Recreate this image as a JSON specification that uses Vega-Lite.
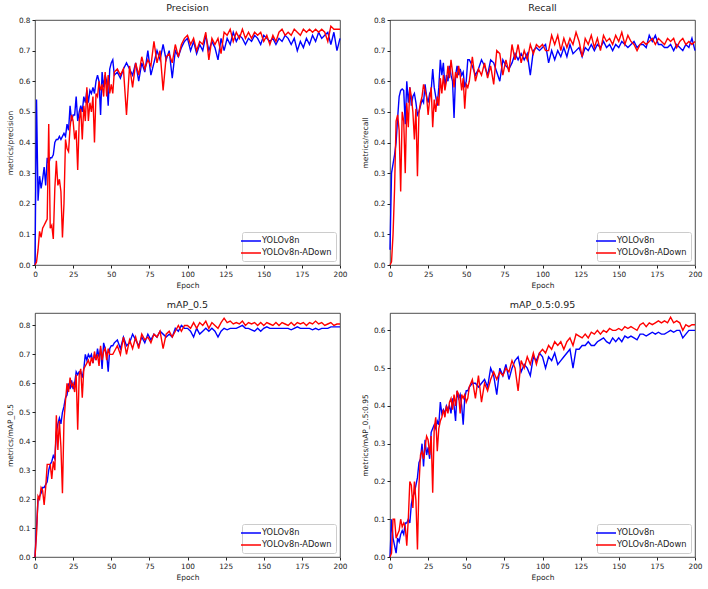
{
  "$schema": "https://vega.github.io/schema/vega-lite/v6.json",
  "padding": {"left": 5, "top": 2, "right": 0, "bottom": 0},
  "background": "white",
  "datasets": {
    "d": [
      {"e":0,"p1":0,"p2":0,"r1":0.05,"r2":0,"m1":0,"m2":0,"s1":0,"s2":0},
      {"e":1,"p1":0.54,"p2":0.01,"r1":0.30,"r2":0.01,"m1":0.10,"m2":0.08,"s1":0.10,"s2":0.01},
      {"e":2,"p1":0.21,"p2":0.05,"r1":0.33,"r2":0.10,"m1":0.20,"m2":0.21,"s1":0.05,"s2":0.10},
      {"e":3,"p1":0.29,"p2":0.11,"r1":0.36,"r2":0.25,"m1":0.21,"m2":0.20,"s1":0.03,"s2":0.10},
      {"e":4,"p1":0.25,"p2":0.09,"r1":0.40,"r2":0.47,"m1":0.22,"m2":0.24,"s1":0.01,"s2":0.05},
      {"e":5,"p1":0.28,"p2":0.12,"r1":0.48,"r2":0.49,"m1":0.24,"m2":0.23,"s1":0.05,"s2":0.06},
      {"e":6,"p1":0.32,"p2":0.13,"r1":0.55,"r2":0.44,"m1":0.24,"m2":0.18,"s1":0.04,"s2":0.07},
      {"e":7,"p1":0.26,"p2":0.14,"r1":0.57,"r2":0.24,"m1":0.25,"m2":0.24,"s1":0.06,"s2":0.10},
      {"e":8,"p1":0.35,"p2":0.15,"r1":0.575,"r2":0.50,"m1":0.26,"m2":0.32,"s1":0.07,"s2":0.08},
      {"e":9,"p1":0.33,"p2":0.46,"r1":0.57,"r2":0.47,"m1":0.30,"m2":0.32,"s1":0.06,"s2":0.09},
      {"e":10,"p1":0.35,"p2":0.12,"r1":0.46,"r2":0.30,"m1":0.32,"m2":0.32,"s1":0.09,"s2":0.08},
      {"e":11,"p1":0.35,"p2":0.13,"r1":0.60,"r2":0.53,"m1":0.33,"m2":0.27,"s1":0.09,"s2":0.03},
      {"e":12,"p1":0.36,"p2":0.085,"r1":0.53,"r2":0.45,"m1":0.35,"m2":0.33,"s1":0.10,"s2":0.10},
      {"e":13,"p1":0.40,"p2":0.25,"r1":0.58,"r2":0.58,"m1":0.34,"m2":0.30,"s1":0.09,"s2":0.20},
      {"e":14,"p1":0.41,"p2":0.34,"r1":0.52,"r2":0.55,"m1":0.43,"m2":0.49,"s1":0.14,"s2":0.19},
      {"e":15,"p1":0.41,"p2":0.26,"r1":0.55,"r2":0.50,"m1":0.46,"m2":0.37,"s1":0.16,"s2":0.13},
      {"e":16,"p1":0.42,"p2":0.28,"r1":0.56,"r2":0.41,"m1":0.48,"m2":0.47,"s1":0.17,"s2":0.20},
      {"e":17,"p1":0.41,"p2":0.24,"r1":0.53,"r2":0.51,"m1":0.46,"m2":0.38,"s1":0.19,"s2":0.15},
      {"e":18,"p1":0.42,"p2":0.09,"r1":0.49,"r2":0.29,"m1":0.50,"m2":0.22,"s1":0.21,"s2":0.02},
      {"e":19,"p1":0.43,"p2":0.20,"r1":0.50,"r2":0.50,"m1":0.52,"m2":0.47,"s1":0.25,"s2":0.19},
      {"e":20,"p1":0.42,"p2":0.41,"r1":0.52,"r2":0.53,"m1":0.55,"m2":0.54,"s1":0.26,"s2":0.27},
      {"e":21,"p1":0.46,"p2":0.38,"r1":0.54,"r2":0.55,"m1":0.56,"m2":0.60,"s1":0.30,"s2":0.28},
      {"e":22,"p1":0.44,"p2":0.37,"r1":0.53,"r2":0.59,"m1":0.60,"m2":0.57,"s1":0.24,"s2":0.26},
      {"e":23,"p1":0.52,"p2":0.45,"r1":0.59,"r2":0.57,"m1":0.58,"m2":0.62,"s1":0.31,"s2":0.29},
      {"e":24,"p1":0.47,"p2":0.49,"r1":0.55,"r2":0.55,"m1":0.61,"m2":0.59,"s1":0.27,"s2":0.32},
      {"e":25,"p1":0.49,"p2":0.47,"r1":0.53,"r2":0.49,"m1":0.58,"m2":0.60,"s1":0.29,"s2":0.31},
      {"e":26,"p1":0.49,"p2":0.41,"r1":0.56,"r2":0.54,"m1":0.60,"m2":0.57,"s1":0.26,"s2":0.27},
      {"e":27,"p1":0.55,"p2":0.44,"r1":0.57,"r2":0.58,"m1":0.64,"m2":0.63,"s1":0.33,"s2":0.32},
      {"e":28,"p1":0.47,"p2":0.31,"r1":0.64,"r2":0.45,"m1":0.63,"m2":0.44,"s1":0.34,"s2":0.17},
      {"e":29,"p1":0.50,"p2":0.47,"r1":0.58,"r2":0.54,"m1":0.64,"m2":0.63,"s1":0.35,"s2":0.34},
      {"e":30,"p1":0.52,"p2":0.51,"r1":0.55,"r2":0.50,"m1":0.64,"m2":0.65,"s1":0.34,"s2":0.37},
      {"e":31,"p1":0.50,"p2":0.41,"r1":0.52,"r2":0.55,"m1":0.62,"m2":0.55,"s1":0.36,"s2":0.28},
      {"e":32,"p1":0.55,"p2":0.52,"r1":0.58,"r2":0.52,"m1":0.65,"m2":0.65,"s1":0.35,"s2":0.34},
      {"e":33,"p1":0.53,"p2":0.47,"r1":0.67,"r2":0.61,"m1":0.70,"m2":0.66,"s1":0.41,"s2":0.36},
      {"e":34,"p1":0.57,"p2":0.58,"r1":0.62,"r2":0.56,"m1":0.68,"m2":0.67,"s1":0.38,"s2":0.37},
      {"e":35,"p1":0.53,"p2":0.47,"r1":0.66,"r2":0.62,"m1":0.70,"m2":0.68,"s1":0.39,"s2":0.39},
      {"e":36,"p1":0.57,"p2":0.53,"r1":0.58,"r2":0.57,"m1":0.69,"m2":0.66,"s1":0.38,"s2":0.37},
      {"e":37,"p1":0.56,"p2":0.50,"r1":0.62,"r2":0.60,"m1":0.70,"m2":0.69,"s1":0.40,"s2":0.40},
      {"e":38,"p1":0.58,"p2":0.55,"r1":0.60,"r2":0.65,"m1":0.67,"m2":0.67,"s1":0.39,"s2":0.38},
      {"e":39,"p1":0.56,"p2":0.40,"r1":0.65,"r2":0.61,"m1":0.70,"m2":0.71,"s1":0.40,"s2":0.41},
      {"e":40,"p1":0.60,"p2":0.56,"r1":0.62,"r2":0.67,"m1":0.68,"m2":0.68,"s1":0.38,"s2":0.42},
      {"e":41,"p1":0.62,"p2":0.55,"r1":0.60,"r2":0.63,"m1":0.72,"m2":0.70,"s1":0.42,"s2":0.39},
      {"e":42,"p1":0.60,"p2":0.60,"r1":0.48,"r2":0.58,"m1":0.69,"m2":0.66,"s1":0.40,"s2":0.43},
      {"e":43,"p1":0.49,"p2":0.57,"r1":0.62,"r2":0.63,"m1":0.72,"m2":0.73,"s1":0.36,"s2":0.40},
      {"e":44,"p1":0.63,"p2":0.59,"r1":0.65,"r2":0.61,"m1":0.65,"m2":0.68,"s1":0.44,"s2":0.44},
      {"e":45,"p1":0.58,"p2":0.55,"r1":0.62,"r2":0.65,"m1":0.74,"m2":0.71,"s1":0.42,"s2":0.43},
      {"e":46,"p1":0.62,"p2":0.63,"r1":0.64,"r2":0.62,"m1":0.72,"m2":0.72,"s1":0.43,"s2":0.38},
      {"e":47,"p1":0.60,"p2":0.55,"r1":0.62,"r2":0.57,"m1":0.70,"m2":0.68,"s1":0.40,"s2":0.43},
      {"e":48,"p1":0.52,"p2":0.62,"r1":0.63,"r2":0.61,"m1":0.64,"m2":0.72,"s1":0.35,"s2":0.42},
      {"e":49,"p1":0.64,"p2":0.56,"r1":0.58,"r2":0.51,"m1":0.72,"m2":0.70,"s1":0.42,"s2":0.43},
      {"e":50,"p1":0.66,"p2":0.59,"r1":0.60,"r2":0.59,"m1":0.73,"m2":0.70,"s1":0.44,"s2":0.41},
      {"e":51,"p1":0.67,"p2":0.56,"r1":0.67,"r2":0.58,"m1":0.73,"m2":0.70,"s1":0.44,"s2":0.42},
      {"e":52,"p1":0.62,"p2":0.63,"r1":0.67,"r2":0.60,"m1":0.74,"m2":0.71,"s1":0.45,"s2":0.45},
      {"e":54,"p1":0.63,"p2":0.64,"r1":0.65,"r2":0.68,"m1":0.75,"m2":0.73,"s1":0.46,"s2":0.47},
      {"e":56,"p1":0.61,"p2":0.62,"r1":0.62,"r2":0.60,"m1":0.72,"m2":0.70,"s1":0.46,"s2":0.42},
      {"e":58,"p1":0.64,"p2":0.64,"r1":0.64,"r2":0.64,"m1":0.76,"m2":0.76,"s1":0.45,"s2":0.48},
      {"e":60,"p1":0.66,"p2":0.49,"r1":0.67,"r2":0.62,"m1":0.73,"m2":0.70,"s1":0.46,"s2":0.41},
      {"e":62,"p1":0.64,"p2":0.65,"r1":0.65,"r2":0.66,"m1":0.74,"m2":0.75,"s1":0.47,"s2":0.46},
      {"e":64,"p1":0.62,"p2":0.58,"r1":0.62,"r2":0.61,"m1":0.77,"m2":0.72,"s1":0.45,"s2":0.44},
      {"e":66,"p1":0.66,"p2":0.66,"r1":0.67,"r2":0.65,"m1":0.75,"m2":0.76,"s1":0.50,"s2":0.47},
      {"e":68,"p1":0.60,"p2":0.62,"r1":0.66,"r2":0.59,"m1":0.73,"m2":0.72,"s1":0.48,"s2":0.49},
      {"e":70,"p1":0.66,"p2":0.68,"r1":0.63,"r2":0.70,"m1":0.76,"m2":0.77,"s1":0.43,"s2":0.47},
      {"e":72,"p1":0.63,"p2":0.64,"r1":0.60,"r2":0.69,"m1":0.74,"m2":0.75,"s1":0.50,"s2":0.49},
      {"e":74,"p1":0.70,"p2":0.67,"r1":0.67,"r2":0.62,"m1":0.77,"m2":0.76,"s1":0.48,"s2":0.48},
      {"e":76,"p1":0.62,"p2":0.65,"r1":0.65,"r2":0.67,"m1":0.75,"m2":0.74,"s1":0.51,"s2":0.50},
      {"e":78,"p1":0.66,"p2":0.73,"r1":0.64,"r2":0.63,"m1":0.77,"m2":0.77,"s1":0.47,"s2":0.49},
      {"e":80,"p1":0.70,"p2":0.66,"r1":0.66,"r2":0.72,"m1":0.76,"m2":0.76,"s1":0.50,"s2":0.52},
      {"e":82,"p1":0.67,"p2":0.70,"r1":0.69,"r2":0.67,"m1":0.78,"m2":0.78,"s1":0.52,"s2":0.50},
      {"e":84,"p1":0.72,"p2":0.57,"r1":0.67,"r2":0.72,"m1":0.77,"m2":0.72,"s1":0.53,"s2":0.44},
      {"e":86,"p1":0.67,"p2":0.68,"r1":0.69,"r2":0.66,"m1":0.76,"m2":0.77,"s1":0.49,"s2":0.52},
      {"e":88,"p1":0.70,"p2":0.69,"r1":0.67,"r2":0.70,"m1":0.77,"m2":0.78,"s1":0.51,"s2":0.50},
      {"e":90,"p1":0.61,"p2":0.66,"r1":0.69,"r2":0.67,"m1":0.76,"m2":0.76,"s1":0.50,"s2":0.53},
      {"e":92,"p1":0.70,"p2":0.72,"r1":0.62,"r2":0.72,"m1":0.79,"m2":0.78,"s1":0.48,"s2":0.51},
      {"e":94,"p1":0.68,"p2":0.68,"r1":0.70,"r2":0.69,"m1":0.78,"m2":0.80,"s1":0.53,"s2":0.54},
      {"e":96,"p1":0.71,"p2":0.72,"r1":0.71,"r2":0.72,"m1":0.80,"m2":0.78,"s1":0.52,"s2":0.51},
      {"e":98,"p1":0.73,"p2":0.74,"r1":0.70,"r2":0.71,"m1":0.79,"m2":0.80,"s1":0.54,"s2":0.54},
      {"e":100,"p1":0.74,"p2":0.75,"r1":0.71,"r2":0.72,"m1":0.79,"m2":0.80,"s1":0.53,"s2":0.55},
      {"e":102,"p1":0.70,"p2":0.72,"r1":0.72,"r2":0.70,"m1":0.78,"m2":0.79,"s1":0.50,"s2":0.54},
      {"e":104,"p1":0.73,"p2":0.74,"r1":0.66,"r2":0.70,"m1":0.76,"m2":0.81,"s1":0.53,"s2":0.56},
      {"e":106,"p1":0.69,"p2":0.70,"r1":0.70,"r2":0.75,"m1":0.79,"m2":0.79,"s1":0.52,"s2":0.55},
      {"e":108,"p1":0.72,"p2":0.73,"r1":0.67,"r2":0.72,"m1":0.77,"m2":0.81,"s1":0.54,"s2":0.57},
      {"e":110,"p1":0.70,"p2":0.72,"r1":0.70,"r2":0.75,"m1":0.78,"m2":0.80,"s1":0.51,"s2":0.56},
      {"e":112,"p1":0.75,"p2":0.76,"r1":0.68,"r2":0.70,"m1":0.79,"m2":0.815,"s1":0.52,"s2":0.57},
      {"e":114,"p1":0.70,"p2":0.67,"r1":0.71,"r2":0.74,"m1":0.78,"m2":0.79,"s1":0.53,"s2":0.55},
      {"e":116,"p1":0.73,"p2":0.74,"r1":0.68,"r2":0.71,"m1":0.79,"m2":0.81,"s1":0.54,"s2":0.57},
      {"e":118,"p1":0.71,"p2":0.72,"r1":0.72,"r2":0.74,"m1":0.78,"m2":0.80,"s1":0.55,"s2":0.58},
      {"e":120,"p1":0.67,"p2":0.74,"r1":0.69,"r2":0.72,"m1":0.76,"m2":0.79,"s1":0.50,"s2":0.56},
      {"e":122,"p1":0.74,"p2":0.69,"r1":0.70,"r2":0.76,"m1":0.78,"m2":0.81,"s1":0.55,"s2":0.59},
      {"e":124,"p1":0.70,"p2":0.76,"r1":0.71,"r2":0.73,"m1":0.79,"m2":0.825,"s1":0.55,"s2":0.585},
      {"e":126,"p1":0.74,"p2":0.75,"r1":0.68,"r2":0.68,"m1":0.785,"m2":0.81,"s1":0.56,"s2":0.58},
      {"e":128,"p1":0.72,"p2":0.77,"r1":0.71,"r2":0.74,"m1":0.79,"m2":0.815,"s1":0.56,"s2":0.59},
      {"e":130,"p1":0.76,"p2":0.73,"r1":0.70,"r2":0.72,"m1":0.79,"m2":0.805,"s1":0.57,"s2":0.58},
      {"e":132,"p1":0.73,"p2":0.76,"r1":0.72,"r2":0.75,"m1":0.79,"m2":0.81,"s1":0.56,"s2":0.595},
      {"e":134,"p1":0.75,"p2":0.74,"r1":0.70,"r2":0.71,"m1":0.795,"m2":0.805,"s1":0.56,"s2":0.59},
      {"e":136,"p1":0.74,"p2":0.77,"r1":0.72,"r2":0.74,"m1":0.80,"m2":0.815,"s1":0.57,"s2":0.60},
      {"e":138,"p1":0.72,"p2":0.74,"r1":0.71,"r2":0.70,"m1":0.79,"m2":0.80,"s1":0.575,"s2":0.59},
      {"e":140,"p1":0.74,"p2":0.76,"r1":0.73,"r2":0.75,"m1":0.79,"m2":0.81,"s1":0.58,"s2":0.60},
      {"e":142,"p1":0.73,"p2":0.74,"r1":0.71,"r2":0.73,"m1":0.785,"m2":0.805,"s1":0.57,"s2":0.595},
      {"e":144,"p1":0.75,"p2":0.76,"r1":0.72,"r2":0.74,"m1":0.78,"m2":0.81,"s1":0.565,"s2":0.605},
      {"e":146,"p1":0.74,"p2":0.75,"r1":0.70,"r2":0.72,"m1":0.79,"m2":0.80,"s1":0.58,"s2":0.60},
      {"e":148,"p1":0.72,"p2":0.76,"r1":0.72,"r2":0.75,"m1":0.78,"m2":0.81,"s1":0.57,"s2":0.60},
      {"e":150,"p1":0.75,"p2":0.73,"r1":0.71,"r2":0.73,"m1":0.79,"m2":0.80,"s1":0.58,"s2":0.605},
      {"e":152,"p1":0.74,"p2":0.75,"r1":0.73,"r2":0.76,"m1":0.795,"m2":0.81,"s1":0.57,"s2":0.60},
      {"e":154,"p1":0.73,"p2":0.72,"r1":0.72,"r2":0.72,"m1":0.79,"m2":0.805,"s1":0.585,"s2":0.61},
      {"e":156,"p1":0.74,"p2":0.75,"r1":0.71,"r2":0.75,"m1":0.79,"m2":0.80,"s1":0.58,"s2":0.605},
      {"e":158,"p1":0.72,"p2":0.73,"r1":0.72,"r2":0.73,"m1":0.79,"m2":0.81,"s1":0.585,"s2":0.61},
      {"e":160,"p1":0.74,"p2":0.76,"r1":0.73,"r2":0.72,"m1":0.79,"m2":0.80,"s1":0.58,"s2":0.605},
      {"e":162,"p1":0.73,"p2":0.77,"r1":0.71,"r2":0.70,"m1":0.79,"m2":0.81,"s1":0.575,"s2":0.60},
      {"e":164,"p1":0.75,"p2":0.75,"r1":0.72,"r2":0.72,"m1":0.79,"m2":0.805,"s1":0.59,"s2":0.615},
      {"e":166,"p1":0.74,"p2":0.76,"r1":0.72,"r2":0.73,"m1":0.79,"m2":0.80,"s1":0.59,"s2":0.62},
      {"e":168,"p1":0.72,"p2":0.75,"r1":0.71,"r2":0.72,"m1":0.785,"m2":0.81,"s1":0.585,"s2":0.61},
      {"e":170,"p1":0.74,"p2":0.77,"r1":0.75,"r2":0.73,"m1":0.79,"m2":0.80,"s1":0.59,"s2":0.62},
      {"e":172,"p1":0.70,"p2":0.76,"r1":0.73,"r2":0.74,"m1":0.795,"m2":0.81,"s1":0.595,"s2":0.615},
      {"e":174,"p1":0.73,"p2":0.75,"r1":0.75,"r2":0.72,"m1":0.79,"m2":0.805,"s1":0.59,"s2":0.62},
      {"e":176,"p1":0.71,"p2":0.77,"r1":0.72,"r2":0.74,"m1":0.79,"m2":0.81,"s1":0.595,"s2":0.625},
      {"e":178,"p1":0.74,"p2":0.76,"r1":0.72,"r2":0.73,"m1":0.79,"m2":0.80,"s1":0.59,"s2":0.62},
      {"e":180,"p1":0.72,"p2":0.77,"r1":0.71,"r2":0.72,"m1":0.79,"m2":0.81,"s1":0.59,"s2":0.625},
      {"e":182,"p1":0.75,"p2":0.76,"r1":0.71,"r2":0.74,"m1":0.785,"m2":0.805,"s1":0.595,"s2":0.62},
      {"e":184,"p1":0.73,"p2":0.77,"r1":0.72,"r2":0.73,"m1":0.79,"m2":0.815,"s1":0.60,"s2":0.635},
      {"e":186,"p1":0.76,"p2":0.76,"r1":0.70,"r2":0.74,"m1":0.785,"m2":0.805,"s1":0.595,"s2":0.62},
      {"e":188,"p1":0.74,"p2":0.77,"r1":0.72,"r2":0.71,"m1":0.79,"m2":0.81,"s1":0.60,"s2":0.625},
      {"e":190,"p1":0.75,"p2":0.76,"r1":0.71,"r2":0.73,"m1":0.79,"m2":0.80,"s1":0.60,"s2":0.62},
      {"e":192,"p1":0.76,"p2":0.73,"r1":0.70,"r2":0.74,"m1":0.79,"m2":0.805,"s1":0.58,"s2":0.60},
      {"e":194,"p1":0.72,"p2":0.78,"r1":0.72,"r2":0.72,"m1":0.795,"m2":0.81,"s1":0.59,"s2":0.615},
      {"e":196,"p1":0.76,"p2":0.77,"r1":0.71,"r2":0.73,"m1":0.795,"m2":0.80,"s1":0.60,"s2":0.61},
      {"e":198,"p1":0.70,"p2":0.77,"r1":0.74,"r2":0.72,"m1":0.795,"m2":0.805,"s1":0.60,"s2":0.615},
      {"e":200,"p1":0.74,"p2":0.77,"r1":0.70,"r2":0.73,"m1":0.795,"m2":0.805,"s1":0.60,"s2":0.615}
    ]
  },
  "vconcat": [
    {
      "hconcat": [
        {
          "title": "Precision",
          "width": 305, "height": 245,
          "data": {"name": "d"},
          "transform": [{"fold": ["p1", "p2"], "as": ["k", "v"]}],
          "mark": {"type": "line", "strokeWidth": 1.4},
          "encoding": {
            "x": {"field": "e", "type": "quantitative", "scale": {"domain": [0, 200], "nice": false}, "axis": {"title": "Epoch", "values": [0, 25, 50, 75, 100, 125, 150, 175, 200]}},
            "y": {"field": "v", "type": "quantitative", "scale": {"domain": [0, 0.8], "nice": false, "zero": false}, "axis": {"title": "metrics/precision", "values": [0, 0.1, 0.2, 0.3, 0.4, 0.5, 0.6, 0.7, 0.8], "format": ".1f"}},
            "color": {"field": "k", "type": "nominal", "scale": {"domain": ["p1", "p2"], "range": ["#0000ff", "#ff0000"]}, "legend": {"title": null, "orient": "bottom-right", "labelExpr": "datum.value == 'p1' ? 'YOLOv8n' : 'YOLOv8n-ADown'"}}
          }
        },
        {
          "title": "Recall",
          "width": 305, "height": 245,
          "data": {"name": "d"},
          "transform": [{"fold": ["r1", "r2"], "as": ["k", "v"]}],
          "mark": {"type": "line", "strokeWidth": 1.4},
          "encoding": {
            "x": {"field": "e", "type": "quantitative", "scale": {"domain": [0, 200], "nice": false}, "axis": {"title": "Epoch", "values": [0, 25, 50, 75, 100, 125, 150, 175, 200]}},
            "y": {"field": "v", "type": "quantitative", "scale": {"domain": [0, 0.8], "nice": false, "zero": false}, "axis": {"title": "metrics/recall", "values": [0, 0.1, 0.2, 0.3, 0.4, 0.5, 0.6, 0.7, 0.8], "format": ".1f"}},
            "color": {"field": "k", "type": "nominal", "scale": {"domain": ["r1", "r2"], "range": ["#0000ff", "#ff0000"]}, "legend": {"title": null, "orient": "bottom-right", "labelExpr": "datum.value == 'r1' ? 'YOLOv8n' : 'YOLOv8n-ADown'"}}
          }
        }
      ],
      "spacing": 12,
      "resolve": {"scale": {"color": "independent"}, "legend": {"color": "independent"}}
    },
    {
      "hconcat": [
        {
          "title": "mAP_0.5",
          "width": 305, "height": 244,
          "data": {"name": "d"},
          "transform": [{"fold": ["m1", "m2"], "as": ["k", "v"]}],
          "mark": {"type": "line", "strokeWidth": 1.4},
          "encoding": {
            "x": {"field": "e", "type": "quantitative", "scale": {"domain": [0, 200], "nice": false}, "axis": {"title": "Epoch", "values": [0, 25, 50, 75, 100, 125, 150, 175, 200]}},
            "y": {"field": "v", "type": "quantitative", "scale": {"domain": [0, 0.843], "nice": false, "zero": false}, "axis": {"title": "metrics/mAP_0.5", "values": [0, 0.1, 0.2, 0.3, 0.4, 0.5, 0.6, 0.7, 0.8], "format": ".1f"}},
            "color": {"field": "k", "type": "nominal", "scale": {"domain": ["m1", "m2"], "range": ["#0000ff", "#ff0000"]}, "legend": {"title": null, "orient": "bottom-right", "labelExpr": "datum.value == 'm1' ? 'YOLOv8n' : 'YOLOv8n-ADown'"}}
          }
        },
        {
          "title": "mAP_0.5:0.95",
          "width": 305, "height": 244,
          "data": {"name": "d"},
          "transform": [{"fold": ["s1", "s2"], "as": ["k", "v"]}],
          "mark": {"type": "line", "strokeWidth": 1.4},
          "encoding": {
            "x": {"field": "e", "type": "quantitative", "scale": {"domain": [0, 200], "nice": false}, "axis": {"title": "Epoch", "values": [0, 25, 50, 75, 100, 125, 150, 175, 200]}},
            "y": {"field": "v", "type": "quantitative", "scale": {"domain": [0, 0.646], "nice": false, "zero": false}, "axis": {"title": "metrics/mAP_0.5:0.95", "values": [0, 0.1, 0.2, 0.3, 0.4, 0.5, 0.6], "format": ".1f"}},
            "color": {"field": "k", "type": "nominal", "scale": {"domain": ["s1", "s2"], "range": ["#0000ff", "#ff0000"]}, "legend": {"title": null, "orient": "bottom-right", "labelExpr": "datum.value == 's1' ? 'YOLOv8n' : 'YOLOv8n-ADown'"}}
          }
        }
      ],
      "spacing": 12,
      "resolve": {"scale": {"color": "independent"}, "legend": {"color": "independent"}}
    }
  ],
  "spacing": 9,
  "resolve": {"scale": {"color": "independent"}, "legend": {"color": "independent"}},
  "config": {
    "font": "DejaVu Sans",
    "view": {"stroke": "#222", "strokeWidth": 0.8},
    "axis": {"domain": false, "grid": false, "tickColor": "#222", "tickSize": 3, "labelFontSize": 7.3, "labelColor": "#222", "titleFontSize": 7.5, "titleFontWeight": "normal", "titleColor": "#222", "labelPadding": 2, "titlePadding": 4, "labelFlush": false, "labelOverlap": false},
    "title": {"fontSize": 9.5, "fontWeight": "normal", "color": "#222", "offset": 4},
    "legend": {"fillColor": "#ffffff", "strokeColor": "#cccccc", "cornerRadius": 2, "padding": 4, "offset": 4, "labelFontSize": 8.3, "labelColor": "#222", "symbolType": "M-2.5,0H2.5", "symbolSize": 64, "symbolStrokeWidth": 1.5, "labelOffset": 6, "rowPadding": 3}
  }
}
